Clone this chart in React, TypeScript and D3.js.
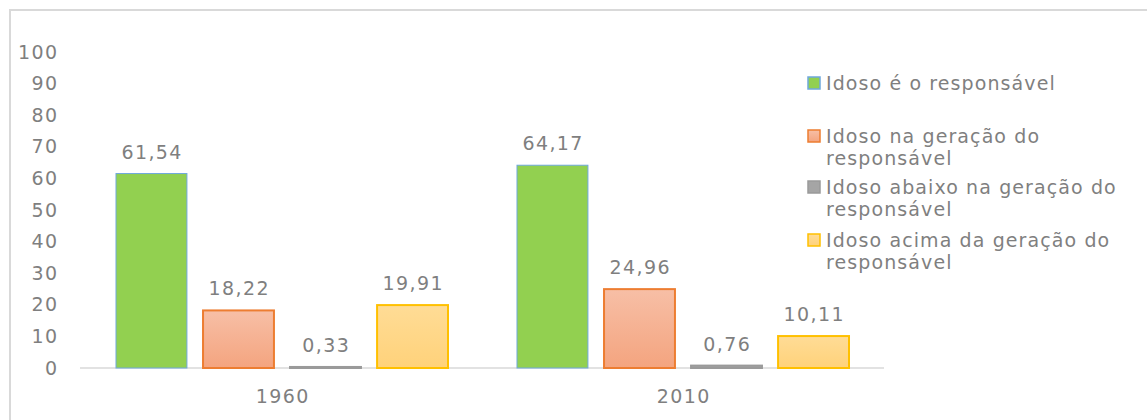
import React from "react";
import * as d3 from "d3";

const categories = ["1960", "2010"];
const seriesNames = [
  "Idoso é o responsável",
  "Idoso na geração do responsável",
  "Idoso abaixo na geração do responsável",
  "Idoso acima da geração do responsável",
];
const legendLines = [
  ["Idoso é o responsável"],
  ["Idoso na geração do", "responsável"],
  ["Idoso abaixo na geração do", "responsável"],
  ["Idoso acima da geração do", "responsável"],
];
const values1960 = [61.54, 18.22, 0.33, 19.91];
const values2010 = [64.17, 24.96, 0.76, 10.11];
const valueLabels1960 = ["61,54", "18,22", "0,33", "19,91"];
const valueLabels2010 = ["64,17", "24,96", "0,76", "10,11"];
const yTicks = [0, 10, 20, 30, 40, 50, 60, 70, 80, 90, 100];

const fills = ["#92d050", "url(#gOrange)", "#a5a5a5", "url(#gYellow)"];
const strokes = ["#6fa8dc", "#ed7d31", "#9a9a9a", "#ffc000"];

export default function App() {
  const W = 1147, H = 420;
  const font = "'DejaVu Sans', sans-serif";
  const textColor = "#7f7f7f";
  const ls = 1.4;
  const fs = 19;
  const y = d3.scaleLinear().domain([0, 100]).range([368, 52]);
  const x0 = d3.scaleBand().domain(categories).range([81.5, 883.5]);
  const x1 = d3
    .scaleBand()
    .domain(seriesNames)
    .range([34.5, x0.bandwidth() - 34.5])
    .paddingInner(0.185);
  const data = [values1960, values2010];
  const labels = [valueLabels1960, valueLabels2010];
  const legendY = [83, 136, 187, 240];

  return (
    <svg
      width={W}
      height={H}
      style={{ position: "absolute", left: 0, top: 0, background: "#fff" }}
    >
      <defs>
        <linearGradient id="gOrange" x1="0" y1="0" x2="0" y2="1">
          <stop offset="0" stopColor="#f7bfa6" />
          <stop offset="1" stopColor="#f4a47f" />
        </linearGradient>
        <linearGradient id="gYellow" x1="0" y1="0" x2="0" y2="1">
          <stop offset="0" stopColor="#ffdc96" />
          <stop offset="1" stopColor="#ffd27a" />
        </linearGradient>
      </defs>
      <rect x={10} y={10} width={1200} height={500} fill="none" stroke="#d9d9d9" strokeWidth={2} />
      {yTicks.map((t) => (
        <text
          key={t}
          x={57 + ls}
          y={y(t)}
          dy="0.35em"
          textAnchor="end"
          fontFamily={font}
          fontSize={fs}
          letterSpacing={ls}
          fill={textColor}
        >
          {t}
        </text>
      ))}
      <line x1={80} x2={884} y1={y(0)} y2={y(0)} stroke="#d9d9d9" strokeWidth={1.5} />
      {categories.map((c, ci) => (
        <g key={c} transform={`translate(${x0(c)},0)`}>
          {seriesNames.map((s, si) => {
            const v = data[ci][si];
            const top = y(v);
            return (
              <g key={s}>
                <rect
                  x={x1(s)}
                  y={top}
                  width={x1.bandwidth()}
                  height={Math.max(y(0) - top, 1)}
                  fill={fills[si]}
                  stroke={strokes[si]}
                  strokeWidth={si === 0 ? 1 : 2}
                />
                <text
                  x={(x1(s) as number) + x1.bandwidth() / 2 + ls / 2}
                  y={top - 15}
                  textAnchor="middle"
                  fontFamily={font}
                  fontSize={fs}
                  letterSpacing={ls}
                  fill={textColor}
                >
                  {labels[ci][si]}
                </text>
              </g>
            );
          })}
          <text
            x={x0.bandwidth() / 2 + ls / 2}
            y={396}
            dy="0.35em"
            textAnchor="middle"
            fontFamily={font}
            fontSize={fs}
            letterSpacing={ls}
            fill={textColor}
          >
            {c}
          </text>
        </g>
      ))}
      {seriesNames.map((s, si) => (
        <g key={s} transform={`translate(808,${legendY[si]})`}>
          <rect
            x={0}
            y={-6}
            width={12}
            height={12}
            fill={fills[si]}
            stroke={strokes[si]}
            strokeWidth={1.5}
          />
          {legendLines[si].map((ln, li) => (
            <text
              key={li}
              x={18}
              y={li * 22}
              dy="0.35em"
              fontFamily={font}
              fontSize={fs}
              letterSpacing={1.1}
              fill={textColor}
            >
              {ln}
            </text>
          ))}
        </g>
      ))}
    </svg>
  );
}
